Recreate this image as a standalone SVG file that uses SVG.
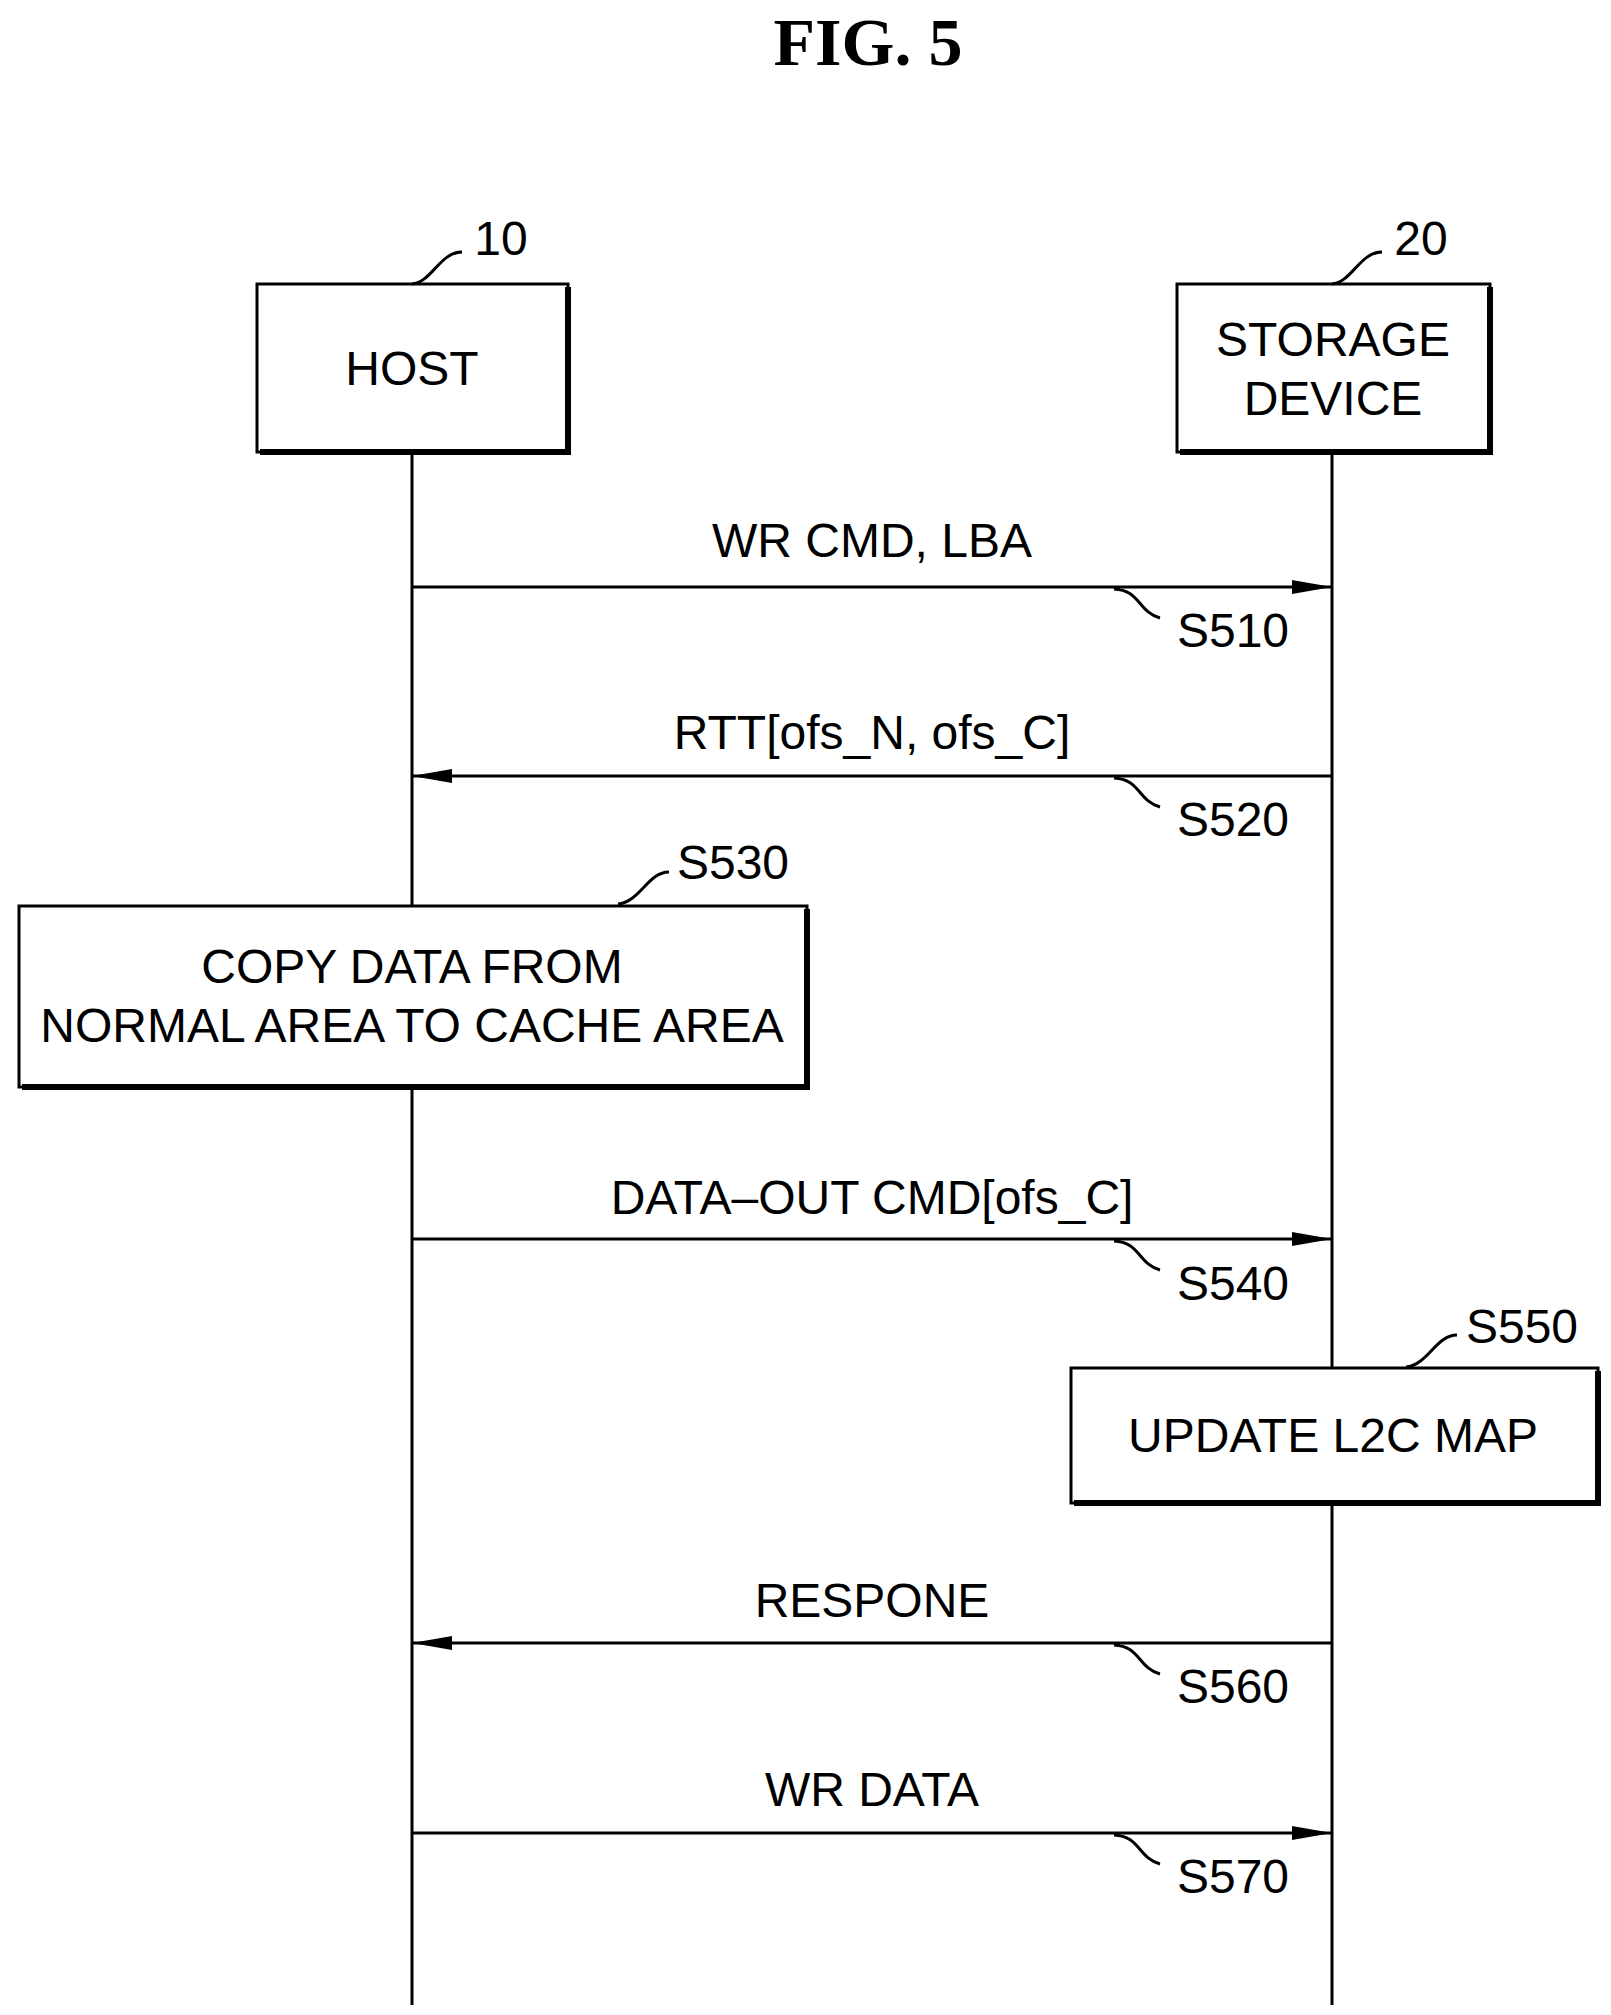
<svg xmlns="http://www.w3.org/2000/svg" width="1611" height="2015" viewBox="0 0 1611 2015">
<style>
.t{font-family:"Liberation Sans",Arial,sans-serif;font-size:48px;fill:#000;text-anchor:middle;dominant-baseline:central}
.box{fill:#fff;stroke:#000;stroke-width:3}
.sh{fill:none;stroke:#000;stroke-width:6}
.ln{fill:none;stroke:#000;stroke-width:3}
</style>
<defs>
<marker id="ah" markerWidth="40" markerHeight="14" refX="40" refY="7" orient="auto" markerUnits="userSpaceOnUse">
<path d="M0,0 L40,7 L0,14 Z" fill="#000"/>
</marker>
</defs>
<rect width="1611" height="2015" fill="#fff"/>
<text x="868" y="42" style="font-family:'Liberation Serif',serif;font-size:68px;font-weight:bold;text-anchor:middle;dominant-baseline:central">FIG.  5</text>
<g id="connectors">
<line class="ln" x1="412" y1="452" x2="412" y2="2005"/>
<line class="ln" x1="1332" y1="452" x2="1332" y2="2005"/>
<line class="ln" x1="412" y1="587" x2="1332" y2="587" marker-end="url(#ah)"/>
<line class="ln" x1="1332" y1="776" x2="412" y2="776" marker-end="url(#ah)"/>
<line class="ln" x1="412" y1="1239" x2="1332" y2="1239" marker-end="url(#ah)"/>
<line class="ln" x1="1332" y1="1643" x2="412" y2="1643" marker-end="url(#ah)"/>
<line class="ln" x1="412" y1="1833" x2="1332" y2="1833" marker-end="url(#ah)"/>
<text class="t" x="872" y="540">WR CMD, LBA</text>
<text class="t" x="872" y="732">RTT[ofs_N, ofs_C]</text>
<text class="t" x="872" y="1197">DATA–OUT CMD[ofs_C]</text>
<text class="t" x="872" y="1600">RESPONE</text>
<text class="t" x="872" y="1789">WR DATA</text>
<path class="ln" d="M1114,589 C1140,590 1138,612 1160,618"/>
<path class="ln" d="M1114,778 C1140,779 1138,801 1160,807"/>
<path class="ln" d="M1114,1241 C1140,1242 1138,1264 1160,1270"/>
<path class="ln" d="M1114,1645 C1140,1646 1138,1668 1160,1674"/>
<path class="ln" d="M1114,1835 C1140,1836 1138,1858 1160,1864"/>
<text class="t" x="1233" y="630">S510</text>
<text class="t" x="1233" y="819">S520</text>
<text class="t" x="1233" y="1283">S540</text>
<text class="t" x="1233" y="1686">S560</text>
<text class="t" x="1233" y="1876">S570</text>
</g>
<g id="host">
<rect class="box" x="257" y="284" width="311" height="168"/>
<path class="sh" d="M568,287 V452 H260"/>
<text class="t" x="412" y="368">HOST</text>
<path class="ln" d="M412,284 C432,282 440,252 462,252"/>
<text class="t" x="501" y="238">10</text>
</g>
<g id="storage">
<rect class="box" x="1177" y="284" width="313" height="168"/>
<path class="sh" d="M1490,287 V452 H1180"/>
<text class="t" x="1333" y="339">STORAGE</text>
<text class="t" x="1333" y="398">DEVICE</text>
<path class="ln" d="M1332,284 C1352,282 1360,252 1382,252"/>
<text class="t" x="1421" y="238">20</text>
</g>
<g id="s530">
<rect class="box" x="19" y="906" width="788" height="181"/>
<path class="sh" d="M807,909 V1087 H22"/>
<text class="t" x="412" y="966">COPY DATA FROM</text>
<text class="t" x="412" y="1025">NORMAL AREA TO CACHE AREA</text>
<path class="ln" d="M618,904 C640,902 648,872 669,872"/>
<text class="t" x="733" y="862">S530</text>
</g>
<g id="s550">
<rect class="box" x="1071" y="1368" width="527" height="135"/>
<path class="sh" d="M1598,1371 V1503 H1074"/>
<text class="t" x="1333" y="1435">UPDATE L2C MAP</text>
<path class="ln" d="M1406,1367 C1428,1365 1436,1335 1457,1335"/>
<text class="t" x="1522" y="1326">S550</text>
</g>
</svg>
